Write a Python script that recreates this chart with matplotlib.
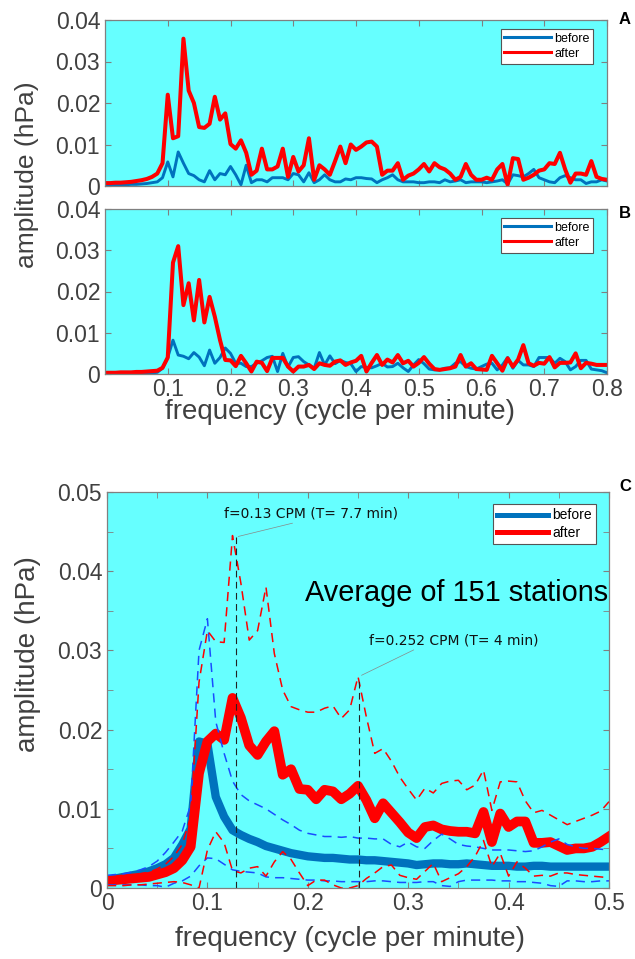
import numpy as np
import matplotlib
matplotlib.use("Agg")
import matplotlib.pyplot as plt
from matplotlib.ticker import MultipleLocator, FuncFormatter

plt.rcParams["font.family"] = ["Liberation Sans", "DejaVu Sans"]

# panels A and B: spectra sampled every 1/120 cycle per minute, 0 .. 0.8
freq_ab = np.arange(97) / 120

before_a = [
    0.0002, 0.0002, 0.0003, 0.0003, 0.0003, 0.0004, 0.0004, 0.0005, 0.0006, 0.0008,
    0.0010, 0.0020, 0.0058, 0.0022, 0.0082, 0.0055, 0.0030, 0.0025, 0.0015, 0.0010,
    0.0037, 0.0015, 0.0030, 0.0027, 0.0047, 0.0027, 0.0003, 0.0050, 0.0008, 0.0015,
    0.0015, 0.0010, 0.0020, 0.0020, 0.0020, 0.0015, 0.0030, 0.0027, 0.0010, 0.0032,
    0.0008, 0.0015, 0.0027, 0.0015, 0.0010, 0.0010, 0.0017, 0.0015, 0.0020, 0.0020,
    0.0018, 0.0017, 0.0008, 0.0015, 0.0020, 0.0027, 0.0015, 0.0010, 0.0010, 0.0010,
    0.0008, 0.0008, 0.0010, 0.0010, 0.0008, 0.0015, 0.0010, 0.0012, 0.0015, 0.0008,
    0.0010, 0.0010, 0.0010, 0.0008, 0.0010, 0.0012, 0.0015, 0.0005, 0.0027, 0.0025,
    0.0022, 0.0030, 0.0040, 0.0020, 0.0015, 0.0010, 0.0008, 0.0020, 0.0025, 0.0020,
    0.0015, 0.0015, 0.0006, 0.0010, 0.0010, 0.0015, 0.0012,
]
after_a = [
    0.0007, 0.0007, 0.0008, 0.0008, 0.0009, 0.0010, 0.0012, 0.0014, 0.0017, 0.0022,
    0.0030, 0.0055, 0.0220, 0.0115, 0.0120, 0.0355, 0.0230, 0.0200, 0.0142, 0.0140,
    0.0150, 0.0215, 0.0160, 0.0175, 0.0101, 0.0090, 0.0110, 0.0080, 0.0027, 0.0037,
    0.0090, 0.0040, 0.0040, 0.0047, 0.0090, 0.0022, 0.0070, 0.0035, 0.0050, 0.0115,
    0.0015, 0.0050, 0.0040, 0.0027, 0.0060, 0.0095, 0.0055, 0.0100, 0.0087, 0.0095,
    0.0105, 0.0107, 0.0095, 0.0027, 0.0037, 0.0037, 0.0055, 0.0015, 0.0025, 0.0030,
    0.0040, 0.0053, 0.0035, 0.0055, 0.0045, 0.0040, 0.0030, 0.0015, 0.0022, 0.0053,
    0.0027, 0.0015, 0.0015, 0.0020, 0.0015, 0.0040, 0.0053, 0.0003, 0.0067, 0.0065,
    0.0015, 0.0020, 0.0027, 0.0037, 0.0040, 0.0055, 0.0053, 0.0080, 0.0040, 0.0008,
    0.0030, 0.0030, 0.0027, 0.0060, 0.0022, 0.0017, 0.0015,
]
before_b = [
    0.0001, 0.0001, 0.0001, 0.0001, 0.0002, 0.0002, 0.0002, 0.0002, 0.0003, 0.0003,
    0.0004, 0.0014, 0.0040, 0.0082, 0.0046, 0.0043, 0.0037, 0.0052, 0.0041, 0.0020,
    0.0058, 0.0026, 0.0040, 0.0063, 0.0050, 0.0026, 0.0026, 0.0018, 0.0018, 0.0026,
    0.0032, 0.0040, 0.0043, 0.0006, 0.0050, 0.0017, 0.0040, 0.0042, 0.0030, 0.0022,
    0.0014, 0.0052, 0.0022, 0.0044, 0.0025, 0.0033, 0.0028, 0.0025, 0.0006, 0.0018,
    0.0016, 0.0015, 0.0020, 0.0026, 0.0017, 0.0018, 0.0026, 0.0015, 0.0006, 0.0022,
    0.0035, 0.0025, 0.0012, 0.0010, 0.0010, 0.0014, 0.0015, 0.0026, 0.0030, 0.0018,
    0.0014, 0.0012, 0.0018, 0.0024, 0.0026, 0.0010, 0.0022, 0.0040, 0.0014, 0.0033,
    0.0022, 0.0022, 0.0018, 0.0040, 0.0040, 0.0040, 0.0026, 0.0038, 0.0030, 0.0010,
    0.0018, 0.0033, 0.0033, 0.0012, 0.0010, 0.0008, 0.0003,
]
after_b = [
    0.0003, 0.0003, 0.0003, 0.0004, 0.0004, 0.0004, 0.0005, 0.0005, 0.0006, 0.0007,
    0.0008, 0.0015, 0.0040, 0.0270, 0.0310, 0.0167, 0.0220, 0.0130, 0.0228, 0.0125,
    0.0187, 0.0139, 0.0082, 0.0034, 0.0033, 0.0019, 0.0044, 0.0026, 0.0006, 0.0030,
    0.0027, 0.0007, 0.0039, 0.0039, 0.0039, 0.0018, 0.0006, 0.0018, 0.0018, 0.0022,
    0.0012, 0.0026, 0.0022, 0.0020, 0.0030, 0.0033, 0.0022, 0.0028, 0.0032, 0.0044,
    0.0006, 0.0027, 0.0046, 0.0022, 0.0035, 0.0028, 0.0046, 0.0026, 0.0032, 0.0018,
    0.0027, 0.0041, 0.0025, 0.0012, 0.0010, 0.0012, 0.0014, 0.0018, 0.0046, 0.0018,
    0.0026, 0.0012, 0.0011, 0.0010, 0.0044, 0.0026, 0.0008, 0.0038, 0.0018, 0.0035,
    0.0070, 0.0026, 0.0020, 0.0027, 0.0025, 0.0041, 0.0016, 0.0027, 0.0027, 0.0028,
    0.0050, 0.0014, 0.0027, 0.0025, 0.0022, 0.0022, 0.0022,
]

# panel C: average of 151 stations (thick) with upper / lower envelopes (dashed)
freq_c = np.arange(61) / 120

before_mean = [
    0.0010, 0.0012, 0.0014, 0.0016, 0.0018, 0.0021, 0.0025, 0.0030, 0.0038, 0.0055,
    0.0075, 0.0185, 0.0182, 0.0115, 0.0090, 0.0073, 0.0067, 0.0062, 0.0058, 0.0053,
    0.0050, 0.0047, 0.0044, 0.0042, 0.0040, 0.0039, 0.0038, 0.0038, 0.0037, 0.0036,
    0.0036, 0.0035, 0.0035, 0.0034, 0.0033, 0.0032, 0.0031, 0.0029, 0.0030, 0.0031,
    0.0031, 0.0030, 0.0030, 0.0031, 0.0030, 0.0029, 0.0028, 0.0028, 0.0028, 0.0027,
    0.0027, 0.0028, 0.0028, 0.0027, 0.0027, 0.0027, 0.0027, 0.0027, 0.0027, 0.0027,
    0.0027,
]
after_mean = [
    0.0009, 0.0010, 0.0011, 0.0012, 0.0013, 0.0014, 0.0017, 0.0020, 0.0025, 0.0035,
    0.0052, 0.0145, 0.0185, 0.0195, 0.0187, 0.0240, 0.0215, 0.0180, 0.0168, 0.0185,
    0.0198, 0.0143, 0.0150, 0.0125, 0.0124, 0.0112, 0.0124, 0.0122, 0.0112, 0.0119,
    0.0129, 0.0111, 0.0088, 0.0107, 0.0095, 0.0083, 0.0070, 0.0063, 0.0077, 0.0079,
    0.0074, 0.0072, 0.0071, 0.0071, 0.0069, 0.0096, 0.0058, 0.0094, 0.0077, 0.0084,
    0.0084, 0.0057, 0.0057, 0.0058, 0.0053, 0.0048, 0.0050, 0.0050, 0.0052, 0.0058,
    0.0065,
]
before_hi = [
    0.0016, 0.0017, 0.0018, 0.0020, 0.0023, 0.0027, 0.0034, 0.0045, 0.0058, 0.0072,
    0.0105, 0.0300, 0.0340, 0.0210, 0.0170, 0.0135, 0.0118, 0.0110, 0.0105, 0.0100,
    0.0093, 0.0086, 0.0080, 0.0073, 0.0069, 0.0067, 0.0065, 0.0065, 0.0064, 0.0065,
    0.0063, 0.0063, 0.0062, 0.0062, 0.0055, 0.0052, 0.0058, 0.0052, 0.0050, 0.0060,
    0.0068, 0.0062, 0.0055, 0.0053, 0.0052, 0.0050, 0.0048, 0.0048, 0.0048, 0.0047,
    0.0046, 0.0047, 0.0052, 0.0058, 0.0062, 0.0055, 0.0052, 0.0050, 0.0050, 0.0049,
    0.0048,
]
before_lo = [
    0.0004, 0.0004, 0.0004, 0.0004, 0.0004, 0.0003, 0.0003, 0.0001, 0.0006, 0.0009,
    0.0015, 0.0028, 0.0038, 0.0037, 0.0030, 0.0023, 0.0021, 0.0020, 0.0019, 0.0014,
    0.0013, 0.0013, 0.0012, 0.0011, 0.0010, 0.0010, 0.0009, 0.0009, 0.0008, 0.0008,
    0.0008, 0.0008, 0.0009, 0.0009, 0.0008, 0.0007, 0.0007, 0.0007, 0.0008, 0.0008,
    0.0003, 0.0002, 0.0008, 0.0010, 0.0010, 0.0010, 0.0010, 0.0009, 0.0009, 0.0008,
    0.0008, 0.0007, 0.0006, 0.0003, 0.0002, 0.0009, 0.0009, 0.0008, 0.0008, 0.0009,
    0.0009,
]
after_hi = [
    0.0013, 0.0014, 0.0015, 0.0016, 0.0018, 0.0020, 0.0024, 0.0030, 0.0040, 0.0055,
    0.0090, 0.0260, 0.0325, 0.0311, 0.0310, 0.0445, 0.0385, 0.0313, 0.0325, 0.0380,
    0.0296, 0.0250, 0.0229, 0.0225, 0.0222, 0.0222, 0.0227, 0.0230, 0.0214, 0.0225,
    0.0267, 0.0216, 0.0170, 0.0176, 0.0160, 0.0140, 0.0125, 0.0111, 0.0126, 0.0120,
    0.0132, 0.0135, 0.0136, 0.0124, 0.0130, 0.0149, 0.0098, 0.0134, 0.0135, 0.0134,
    0.0110, 0.0095, 0.0098, 0.0092, 0.0086, 0.0080, 0.0084, 0.0088, 0.0092, 0.0097,
    0.0109,
]
after_lo = [
    0.0003, 0.0003, 0.0003, 0.0004, 0.0004, 0.0005, 0.0006, 0.0007, 0.0008, 0.0007,
    0.0004, 0.0000, 0.0048, 0.0071, 0.0057, 0.0022, 0.0019, 0.0025, 0.0027, 0.0015,
    0.0033, 0.0046, 0.0036, 0.0019, 0.0003, 0.0010, 0.0010, 0.0004, 0.0000, 0.0000,
    0.0003, 0.0012, 0.0019, 0.0027, 0.0029, 0.0016, 0.0013, 0.0011, 0.0021, 0.0031,
    0.0008, 0.0013, 0.0018, 0.0027, 0.0040, 0.0060, 0.0027, 0.0044, 0.0015, 0.0033,
    0.0025, 0.0015, 0.0016, 0.0015, 0.0019, 0.0019, 0.0017, 0.0016, 0.0015, 0.0014,
    0.0013,
]

peak_freqs = [0.128, 0.251]
peak_amps = [0.0443, 0.0267]
peak_notes = ["f=0.13 CPM (T= 7.7 min)", "f=0.252 CPM (T= 4 min)"]

BG = "#66ffff"
BLUE = "#0072bd"
RED = "#ff0000"
DASH_BLUE = "#1a4cff"
GRAY = "#404040"
EDGE = "#808080"

fmt = FuncFormatter(lambda v, _: f"{v:g}")


def style_axes(ax, size):
    ax.set_facecolor(BG)
    for sp in ax.spines.values():
        sp.set_color(EDGE)
        sp.set_linewidth(0.9)
    ax.tick_params(which="both", direction="in", top=True, right=True,
                   color=EDGE, labelcolor=GRAY, labelsize=size, length=4)
    ax.tick_params(axis="x", pad=3)
    ax.yaxis.set_major_formatter(fmt)
    ax.xaxis.set_major_formatter(fmt)


def legend(ax, lw, size, anchor):
    leg = ax.legend(loc="upper right", bbox_to_anchor=anchor, fancybox=False,
                    framealpha=1, edgecolor="#555555", fontsize=size,
                    handlelength=3.7, handletextpad=0.3, labelspacing=0.25,
                    borderpad=0.3, borderaxespad=0)
    leg.get_frame().set_linewidth(0.8)
    for line in leg.get_lines():
        line.set_linewidth(lw)


fig = plt.figure(figsize=(6.35, 9.59), dpi=100)

ax_a = fig.add_axes([105 / 635, 1 - 186 / 959, 502 / 635, 166 / 959])
ax_b = fig.add_axes([105 / 635, 1 - 374 / 959, 502 / 635, 165 / 959])
ax_c = fig.add_axes([107 / 635, 1 - 888 / 959, 502 / 635, 396 / 959])

for ax, before, after in [(ax_a, before_a, after_a), (ax_b, before_b, after_b)]:
    style_axes(ax, 16.5)
    ax.plot(freq_ab, before, color=BLUE, lw=2.1, label="before")
    ax.plot(freq_ab, after, color=RED, lw=2.9, label="after")
    ax.set_xlim(0, 0.8)
    ax.set_ylim(0, 0.04)
    ax.set_xticks(np.arange(1, 9) / 10)
    ax.set_yticks(np.arange(5) / 100)
    legend(ax, 2.2, 9, (0.973, 0.946))

ax_a.tick_params(labelbottom=False)

# panel C
style_axes(ax_c, 16.5)
ax_c.plot(freq_c, before_mean, color=BLUE, lw=6, label="before", solid_joinstyle="round")
ax_c.plot(freq_c, after_mean, color=RED, lw=7, label="after", solid_joinstyle="round")
ax_c.plot(freq_c, before_hi, color=DASH_BLUE, lw=1.1, dashes=(6, 4))
ax_c.plot(freq_c, before_lo, color=DASH_BLUE, lw=1.1, dashes=(6, 4))
ax_c.plot(freq_c, after_hi, color=RED, lw=1.1, dashes=(6, 4))
ax_c.plot(freq_c, after_lo, color=RED, lw=1.1, dashes=(6, 4))
ax_c.vlines(peak_freqs, 0, peak_amps, color="#222222", lw=0.8, linestyles=(0, (6, 4)))

ax_c.set_xlim(0, 0.5)
ax_c.set_ylim(0, 0.05)
ax_c.xaxis.set_major_locator(MultipleLocator(0.1))
ax_c.xaxis.set_minor_locator(MultipleLocator(0.05))
ax_c.yaxis.set_major_locator(MultipleLocator(0.01))
ax_c.yaxis.set_minor_locator(MultipleLocator(0.005))
legend(ax_c, 3.6, 10, (0.975, 0.969))

note_pos = [(0.203, 0.0473), (0.345, 0.0313)]
note_rel = [(0.46, 0.0), (0.3, 0.0)]
for f, a, txt, pos, rel in zip(peak_freqs, peak_amps, peak_notes, note_pos, note_rel):
    ax_c.annotate(txt, xy=(f, a), xytext=pos, ha="center", va="center",
                  fontsize=10, family=["DejaVu Sans"], color="#111111",
                  arrowprops=dict(arrowstyle="-", color="#888888", lw=0.5,
                                  shrinkA=0, shrinkB=2, relpos=rel))

ax_c.text(0.998, 0.745, "Average of 151 stations", transform=ax_c.transAxes,
          ha="right", va="center", fontsize=20.8, color="black")

# shared labels
fig.text(27 / 635, 1 - 175 / 959, "amplitude (hPa)", rotation=90,
         ha="center", va="center", fontsize=19, color=GRAY)
fig.text(340 / 635, 1 - 412 / 959, "frequency (cycle per minute)",
         ha="center", va="center", fontsize=20, color=GRAY)
fig.text(28 / 635, 1 - 654 / 959, "amplitude (hPa)", rotation=90,
         ha="center", va="center", fontsize=20, color=GRAY)
fig.text(350 / 635, 1 - 939 / 959, "frequency (cycle per minute)",
         ha="center", va="center", fontsize=20, color=GRAY)

for letter, y in [("A", 19), ("B", 213), ("C", 486)]:
    fig.text(625 / 635, 1 - y / 959, letter, ha="center", va="center",
             fontsize=12, fontweight="bold", color="black")

fig.savefig("out.png", dpi=100)
